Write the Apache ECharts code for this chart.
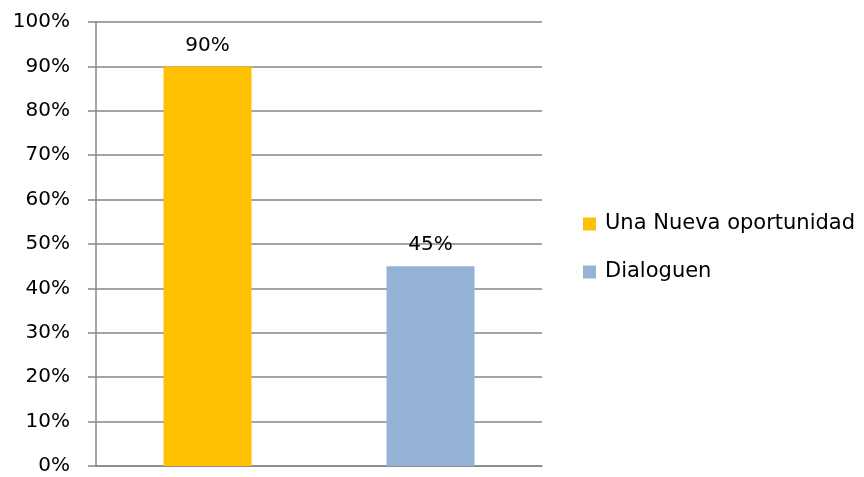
<!DOCTYPE html>
<html>
<head>
<meta charset="utf-8">
<script src="https://cdn.jsdelivr.net/npm/echarts@6/dist/echarts.min.js"></script>
<style>
  html, body { margin: 0; padding: 0; background: #fff; }
  #chart { width: 864px; height: 477px; }
</style>
</head>
<body>
<div id="chart"></div>
<script>
// Two programmes, each in its own slot on the category axis
const categories = ['Una Nueva oportunidad', 'Dialoguen'];
const seriesNames = ['Una Nueva oportunidad', 'Dialoguen'];
const nuevaOportunidad = [90, null];
const dialoguen = [null, 45];
const yTicks = [0, 10, 20, 30, 40, 50, 60, 70, 80, 90, 100];

const FONT = 'DejaVu Sans';
const GRID_COLOR = '#868686';

const chart = echarts.init(document.getElementById('chart'));

function barSeries(name, values, color) {
  return {
    name: name,
    type: 'bar',
    stack: 'slot',
    data: values,
    barWidth: 88,
    itemStyle: { color: color },
    label: {
      show: true,
      position: 'top',
      distance: 11,
      formatter: p => p.value + '%',
      fontFamily: FONT,
      fontSize: 20,
      color: '#000'
    }
  };
}

chart.setOption({
  animation: false,
  textStyle: { fontFamily: FONT },
  grid: { left: 96, right: 322, top: 22, bottom: 11, containLabel: false },
  legend: {
    orient: 'vertical',
    left: 583,
    top: 212,
    padding: 0,
    itemWidth: 13,
    itemHeight: 13,
    itemGap: 24,
    icon: 'rect',
    data: seriesNames,
    textStyle: {
      fontFamily: FONT,
      fontSize: 21,
      color: '#000',
      lineHeight: 24,
      padding: [0, 0, 0, 4]
    }
  },
  xAxis: {
    type: 'category',
    data: categories,
    axisLine: { show: true, lineStyle: { color: GRID_COLOR, width: 1.5 } },
    axisTick: { show: false },
    axisLabel: { show: false },
    splitLine: { show: false }
  },
  yAxis: {
    type: 'value',
    min: yTicks[0],
    max: yTicks[yTicks.length - 1],
    interval: yTicks[1] - yTicks[0],
    axisLine: { show: true, lineStyle: { color: GRID_COLOR, width: 1.5 } },
    axisTick: { show: true, length: 8, lineStyle: { color: GRID_COLOR, width: 1.5 } },
    axisLabel: {
      margin: 26,
      fontFamily: FONT,
      fontSize: 20,
      color: '#000',
      verticalAlign: 'middle',
      padding: [6, 0, 0, 0],
      formatter: v => v + '%'
    },
    splitLine: { show: true, lineStyle: { color: GRID_COLOR, width: 1.5 } }
  },
  series: [
    barSeries(seriesNames[0], nuevaOportunidad, '#FFC000'),
    barSeries(seriesNames[1], dialoguen, '#95B3D7')
  ]
});
</script>
</body>
</html>
